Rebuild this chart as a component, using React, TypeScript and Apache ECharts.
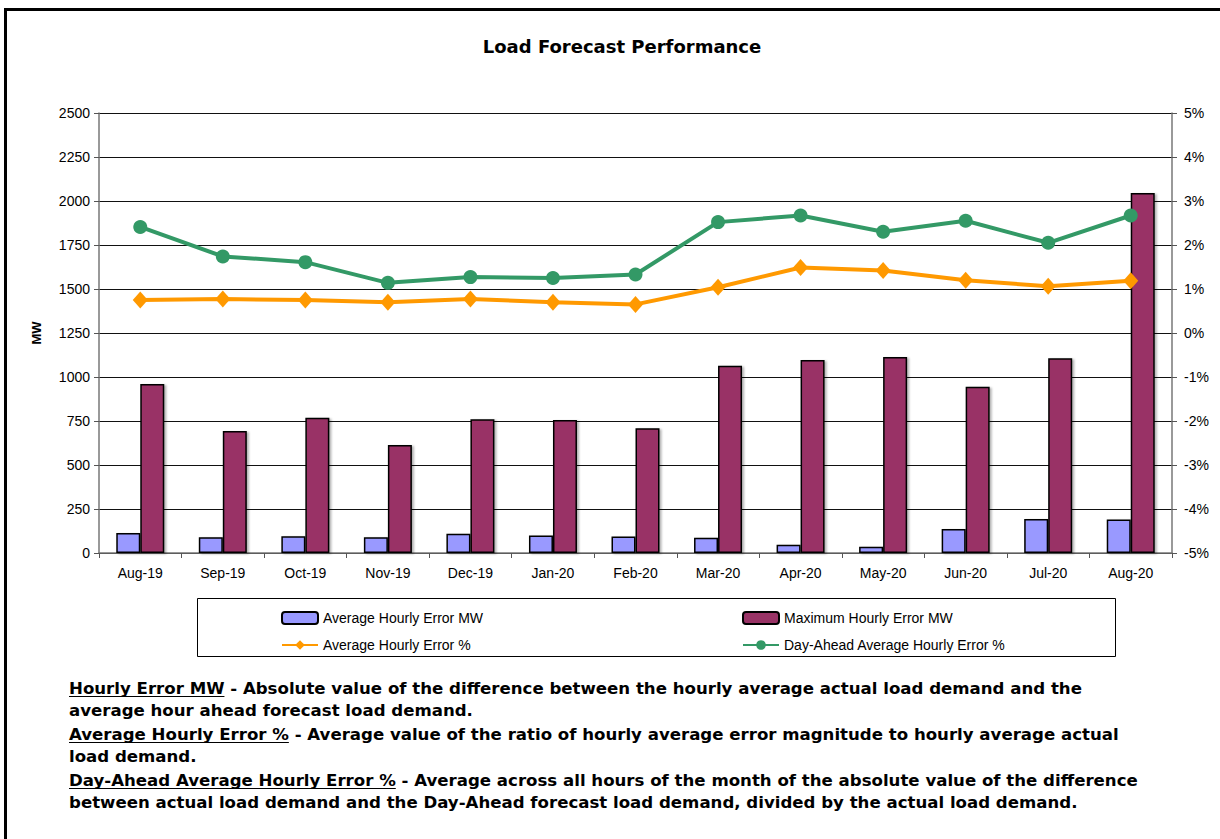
import React, { useEffect, useRef } from "react";
import * as echarts from "echarts";

const categories = ["Aug-19", "Sep-19", "Oct-19", "Nov-19", "Dec-19", "Jan-20", "Feb-20", "Mar-20", "Apr-20", "May-20", "Jun-20", "Jul-20", "Aug-20"];
const avgHourlyErrorMW = [114, 89, 95, 89, 110, 100, 94, 87, 47, 36, 136, 193, 191];
const maxHourlyErrorMW = [960, 693, 768, 614, 760, 756, 709, 1064, 1097, 1113, 944, 1107, 2046];
const avgHourlyErrorPct = [0.75, 0.77, 0.75, 0.7, 0.77, 0.7, 0.65, 1.04, 1.49, 1.42, 1.2, 1.06, 1.19];
const dayAheadErrorPct = [2.41, 1.74, 1.61, 1.14, 1.27, 1.25, 1.33, 2.52, 2.67, 2.3, 2.55, 2.05, 2.67];

const seriesNames = ["Average Hourly Error MW", "Maximum Hourly Error MW", "Average Hourly Error %", "Day-Ahead Average Hourly Error %"];

const footnotes: { u?: string; t: string }[] = [
  { u: "Hourly Error MW", t: " - Absolute value of the difference between the hourly average actual load demand and the" },
  { t: "average hour ahead forecast load demand." },
  { u: "Average Hourly Error %", t: " - Average value of the ratio of hourly average error magnitude to hourly average actual" },
  { t: "load demand." },
  { u: "Day-Ahead Average Hourly Error %", t: " - Average across all hours of the month of the absolute value of the difference" },
  { t: "between actual load demand and the Day-Ahead forecast load demand, divided by the actual load demand." },
];
const footY = [688, 710, 734, 756, 780, 802];

const FOOT_FONT = "bold 16.6px 'DejaVu Sans'";

function measure(text: string, font: string): number {
  const c = document.createElement("canvas").getContext("2d");
  if (!c) return text.length * 9;
  c.font = font;
  return c.measureText(text).width;
}

export default function App() {
  const ref = useRef<HTMLDivElement>(null);
  useEffect(() => {
    if (!ref.current) return;
    const chart = echarts.init(ref.current, undefined, { renderer: "svg" });

    const graphics: any[] = [
      { type: "rect", shape: { x: 5.5, y: 9.5, width: 1300, height: 900 }, style: { fill: "none", stroke: "#000", lineWidth: 3 }, silent: true },
      { type: "rect", shape: { x: 197.5, y: 598.5, width: 918, height: 58 }, style: { fill: "none", stroke: "#000", lineWidth: 1 }, silent: true },
    ];
    const x0 = 69;
    footnotes.forEach((f, i) => {
      const y = footY[i];
      let x = x0;
      if (f.u) {
        const w = measure(f.u, FOOT_FONT);
        graphics.push({ type: "text", x, y, style: { text: f.u, font: FOOT_FONT, fill: "#000", textAlign: "left", textVerticalAlign: "middle" } });
        graphics.push({ type: "line", shape: { x1: x, y1: y + 8.5, x2: x + w, y2: y + 8.5 }, style: { stroke: "#000", lineWidth: 1.2 } });
        x += w;
      }
      graphics.push({ type: "text", x, y, style: { text: f.t, font: FOOT_FONT, fill: "#000", textAlign: "left", textVerticalAlign: "middle" } });
    });

    const legendText = { color: "#000", fontSize: 14, fontFamily: "'Liberation Sans', Arial, sans-serif" };

    chart.setOption({
      animation: false,
      backgroundColor: "#fff",
      title: {
        text: "Load Forecast Performance",
        left: 617,
        top: 32,
        textAlign: "center",
        textStyle: { fontFamily: "'DejaVu Sans'", fontWeight: "bold", fontSize: 18, color: "#000" },
      },
      legend: [
        {
          data: [seriesNames[0], seriesNames[2]],
          orient: "vertical",
          left: 276,
          top: 606,
          itemWidth: 36,
          itemHeight: 12,
          itemGap: 13,
          textStyle: legendText,
          selectedMode: false,
        },
        {
          data: [seriesNames[1], seriesNames[3]],
          orient: "vertical",
          left: 737,
          top: 606,
          itemWidth: 36,
          itemHeight: 12,
          itemGap: 13,
          textStyle: legendText,
          selectedMode: false,
        },
      ],
      grid: { left: 99, right: 48, top: 113, bottom: 286, containLabel: false },
      xAxis: {
        type: "category",
        data: categories,
        boundaryGap: true,
        axisLine: { lineStyle: { color: "#777", width: 1.5 } },
        axisTick: { show: true, length: 5, lineStyle: { color: "#555" } },
        axisLabel: { color: "#000", fontSize: 14, fontFamily: "'Liberation Sans', Arial, sans-serif", margin: 13 },
      },
      yAxis: [
        {
          type: "value",
          min: 0,
          max: 2500,
          interval: 250,
          name: "MW",
          nameLocation: "middle",
          nameGap: 56,
          nameTextStyle: { color: "#000", fontWeight: "bold", fontSize: 13, fontFamily: "'Liberation Sans', Arial, sans-serif" },
          axisLine: { show: true, lineStyle: { color: "#777", width: 1.5 } },
          axisTick: { show: true, length: 5, lineStyle: { color: "#555" } },
          axisLabel: { color: "#000", fontSize: 14, fontFamily: "'Liberation Sans', Arial, sans-serif", margin: 9, formatter: (v: number) => String(v) },
          splitLine: { show: true, lineStyle: { color: "#111", width: 1 } },
        },
        {
          type: "value",
          min: -5,
          max: 5,
          interval: 1,
          position: "right",
          axisLine: { show: true, lineStyle: { color: "#777", width: 1.5 } },
          axisTick: { show: true, length: 5, lineStyle: { color: "#555" } },
          axisLabel: { color: "#000", fontSize: 14, fontFamily: "'Liberation Sans', Arial, sans-serif", margin: 12, formatter: (v: number) => v + "%" },
          splitLine: { show: false },
        },
      ],
      series: [
        {
          name: seriesNames[0],
          type: "bar",
          yAxisIndex: 0,
          data: avgHourlyErrorMW,
          barWidth: 24,
          barGap: "0%",
          itemStyle: { color: "#9999FF", borderColor: "#000", borderWidth: 1.5, shadowColor: "rgba(0,0,0,0.3)", shadowBlur: 2, shadowOffsetX: 2, shadowOffsetY: 1 },
        },
        {
          name: seriesNames[1],
          type: "bar",
          yAxisIndex: 0,
          data: maxHourlyErrorMW,
          barWidth: 24,
          barGap: "0%",
          itemStyle: { color: "#993366", borderColor: "#000", borderWidth: 1.5, shadowColor: "rgba(0,0,0,0.3)", shadowBlur: 2, shadowOffsetX: 2, shadowOffsetY: 1 },
        },
        {
          name: seriesNames[2],
          type: "line",
          yAxisIndex: 1,
          data: avgHourlyErrorPct,
          z: 5,
          symbol: "diamond",
          symbolSize: [15, 17],
          lineStyle: { color: "#FF9900", width: 4 },
          itemStyle: { color: "#FF9900" },
        },
        {
          name: seriesNames[3],
          type: "line",
          yAxisIndex: 1,
          data: dayAheadErrorPct,
          z: 5,
          symbol: "circle",
          symbolSize: 14,
          lineStyle: { color: "#339966", width: 4 },
          itemStyle: { color: "#339966" },
        },
      ],
      graphic: graphics,
    });
    return () => chart.dispose();
  }, []);
  return <div ref={ref} style={{ position: "fixed", left: 0, top: 0, width: 1220, height: 839, background: "#fff" }} />;
}
